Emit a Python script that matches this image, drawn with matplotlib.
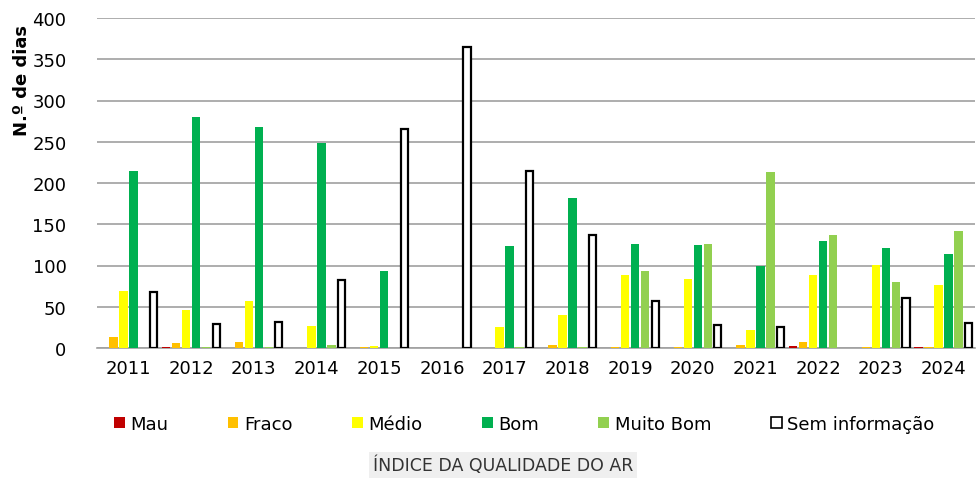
import matplotlib
matplotlib.use("Agg")
import matplotlib.pyplot as plt
import numpy as np
from matplotlib.patches import Patch

years = ["2011", "2012", "2013", "2014", "2015", "2016", "2017", "2018", "2019", "2020", "2021", "2022", "2023", "2024"]
mau = [0, 1, 0, 0, 0, 0, 0, 0, 0, 0, 0, 3, 0, 1]
fraco = [13, 6, 7, 0, 1, 0, 0, 4, 1, 1, 4, 7, 1, 1]
medio = [69, 46, 57, 27, 3, 0, 25, 40, 88, 84, 22, 88, 101, 76]
bom = [215, 280, 268, 249, 93, 0, 124, 182, 126, 125, 99, 130, 121, 114]
muito_bom = [0, 1, 1, 4, 0, 0, 1, 1, 93, 126, 213, 137, 80, 142]
sem_info = [68, 29, 31, 83, 266, 365, 215, 137, 57, 28, 25, 0, 61, 30]

series = [
    ("Mau", mau, "#C00000", "#C00000"),
    ("Fraco", fraco, "#FFC000", "#FFC000"),
    ("Médio", medio, "#FFFF00", "#FFFF00"),
    ("Bom", bom, "#00B050", "#00B050"),
    ("Muito Bom", muito_bom, "#92D050", "#92D050"),
    ("Sem informação", sem_info, "white", "black"),
]

fig = plt.figure(figsize=(9.77, 4.81), dpi=100)
ax = fig.add_axes([97/977, 1-349/481, (975-97)/977, (349-19)/481])

x = np.arange(len(years))
slot = 0.16
w = 0.135
for i, (name, vals, fc, ec) in enumerate(series):
    off = (i - 2.5) * slot
    if name == "Sem informação":
        lws = [1.6 if v > 0 else 0 for v in vals]
        ax.bar(x + off, vals, width=w - 0.02, color=fc, edgecolor=ec, linewidth=lws, zorder=3)
    else:
        ax.bar(x + off, vals, width=w, color=fc, edgecolor="none", zorder=3)

ax.set_xlim(-0.5, len(years) - 0.5)
ax.set_ylim(0, 400)
ax.set_yticks(range(0, 401, 50))
ax.set_xticks(x)
ax.set_xticklabels(years)
ax.tick_params(axis="both", length=0, labelsize=13, colors="black")
ax.tick_params(axis="y", pad=22)
ax.tick_params(axis="x", pad=8)
ax.yaxis.grid(True, color="#A0A0A0", linewidth=1.2, zorder=0)
for s in ["top", "right", "left"]:
    ax.spines[s].set_visible(False)
ax.spines["bottom"].set_color("#A0A0A0")
ax.spines["bottom"].set_linewidth(1.2)
ax.set_axisbelow(True)

fig.text(22/977, 1-80/481, "N.º de dias", rotation=90, fontsize=13, fontweight="bold",
         ha="center", va="center")

handles = [Patch(facecolor=fc, edgecolor=ec, linewidth=1.2 if name == "Sem informação" else 0)
           for name, vals, fc, ec in series]
labels = [s[0] for s in series]
fig.legend(handles, labels, loc="center", bbox_to_anchor=(524/977, 1-425/481), ncol=6,
           frameon=False, fontsize=13, handlelength=0.6, handleheight=0.6,
           handletextpad=0.3, columnspacing=3.3)

fig.text(503/977, 1-466/481, "ÍNDICE DA QUALIDADE DO AR", fontsize=12.5, color="#333333",
         ha="center", va="center", family=["Liberation Sans Narrow", "DejaVu Sans"],
         bbox=dict(facecolor="#EFEFEF", edgecolor="none", pad=3))

fig.savefig("out.png", dpi=100)
